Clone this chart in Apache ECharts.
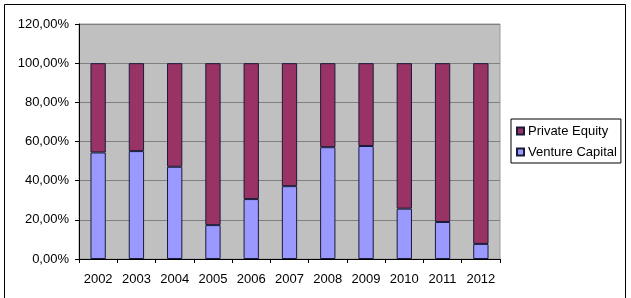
<!DOCTYPE html>
<html>
<head>
<meta charset="utf-8">
<script src="https://cdn.jsdelivr.net/npm/echarts@6/dist/echarts.min.js"></script>
<style>
  html, body { margin: 0; padding: 0; background: #fff; }
  #main { width: 631px; height: 298px; }
</style>
</head>
<body>
<div id="main"></div>
<script>
// years on the x axis
var years = ['2002', '2003', '2004', '2005', '2006', '2007', '2008', '2009', '2010', '2011', '2012'];
// share of venture capital, percent
var ventureCapital = [54.4, 55.1, 47.1, 17.3, 30.6, 37.2, 57.1, 57.7, 25.7, 18.9, 7.7];
// share of private equity, percent (rest up to 100)
var privateEquity = [45.6, 44.9, 52.9, 82.7, 69.4, 62.8, 42.9, 42.3, 74.3, 81.1, 92.3];

var chart = echarts.init(document.getElementById('main'));

var font = 'Liberation Sans, Arial, sans-serif';

chart.setOption({
  animation: false,
  textStyle: { fontFamily: font },
  // outer frame of the chart
  graphic: [{
    type: 'rect',
    shape: { x: 4.5, y: 4.5, width: 621, height: 300 },
    style: { fill: null, stroke: '#000', lineWidth: 1 },
    silent: true
  }],
  grid: {
    left: 79, right: 131, top: 24, bottom: 39,
    show: true,
    backgroundColor: '#C0C0C0',
    borderColor: '#9a9a9a',
    borderWidth: 1
  },
  legend: {
    data: ['Private Equity', 'Venture Capital'],
    orient: 'vertical',
    left: 511, top: 119,
    icon: 'rect',
    itemWidth: 7, itemHeight: 7,
    itemGap: 7,
    padding: [5, 4, 4, 5],
    borderColor: '#000',
    borderWidth: 1,
    backgroundColor: '#fff',
    textStyle: { fontFamily: font, fontSize: 13, color: '#000', lineHeight: 14, padding: [0, 0, 0, -1] }
  },
  xAxis: {
    type: 'category',
    data: years,
    axisLine: { lineStyle: { color: '#000', width: 1 } },
    axisTick: { show: true, length: 4, lineStyle: { color: '#000' } },
    axisLabel: { color: '#000', fontSize: 13, fontFamily: font, margin: 14 }
  },
  yAxis: {
    type: 'value',
    min: 0, max: 120, interval: 20,
    axisLine: { show: true, lineStyle: { color: '#000', width: 1 } },
    axisTick: { show: true, length: 4, lineStyle: { color: '#000' } },
    axisLabel: {
      color: '#000', fontSize: 13, fontFamily: font, margin: 10,
      formatter: function (v) { return v.toFixed(2).replace('.', ',') + '%'; }
    },
    splitLine: { lineStyle: { color: '#808080', width: 1 } }
  },
  series: [{
    name: 'Venture Capital',
    type: 'bar',
    stack: 'total',
    barWidth: '40%',
    data: ventureCapital,
    itemStyle: { color: '#9999FF', borderColor: '#1a1a3a', borderWidth: 1 }
  }, {
    name: 'Private Equity',
    type: 'bar',
    stack: 'total',
    barWidth: '40%',
    data: privateEquity,
    itemStyle: { color: '#993366', borderColor: '#1a1a3a', borderWidth: 1 }
  }]
});
</script>
</body>
</html>
